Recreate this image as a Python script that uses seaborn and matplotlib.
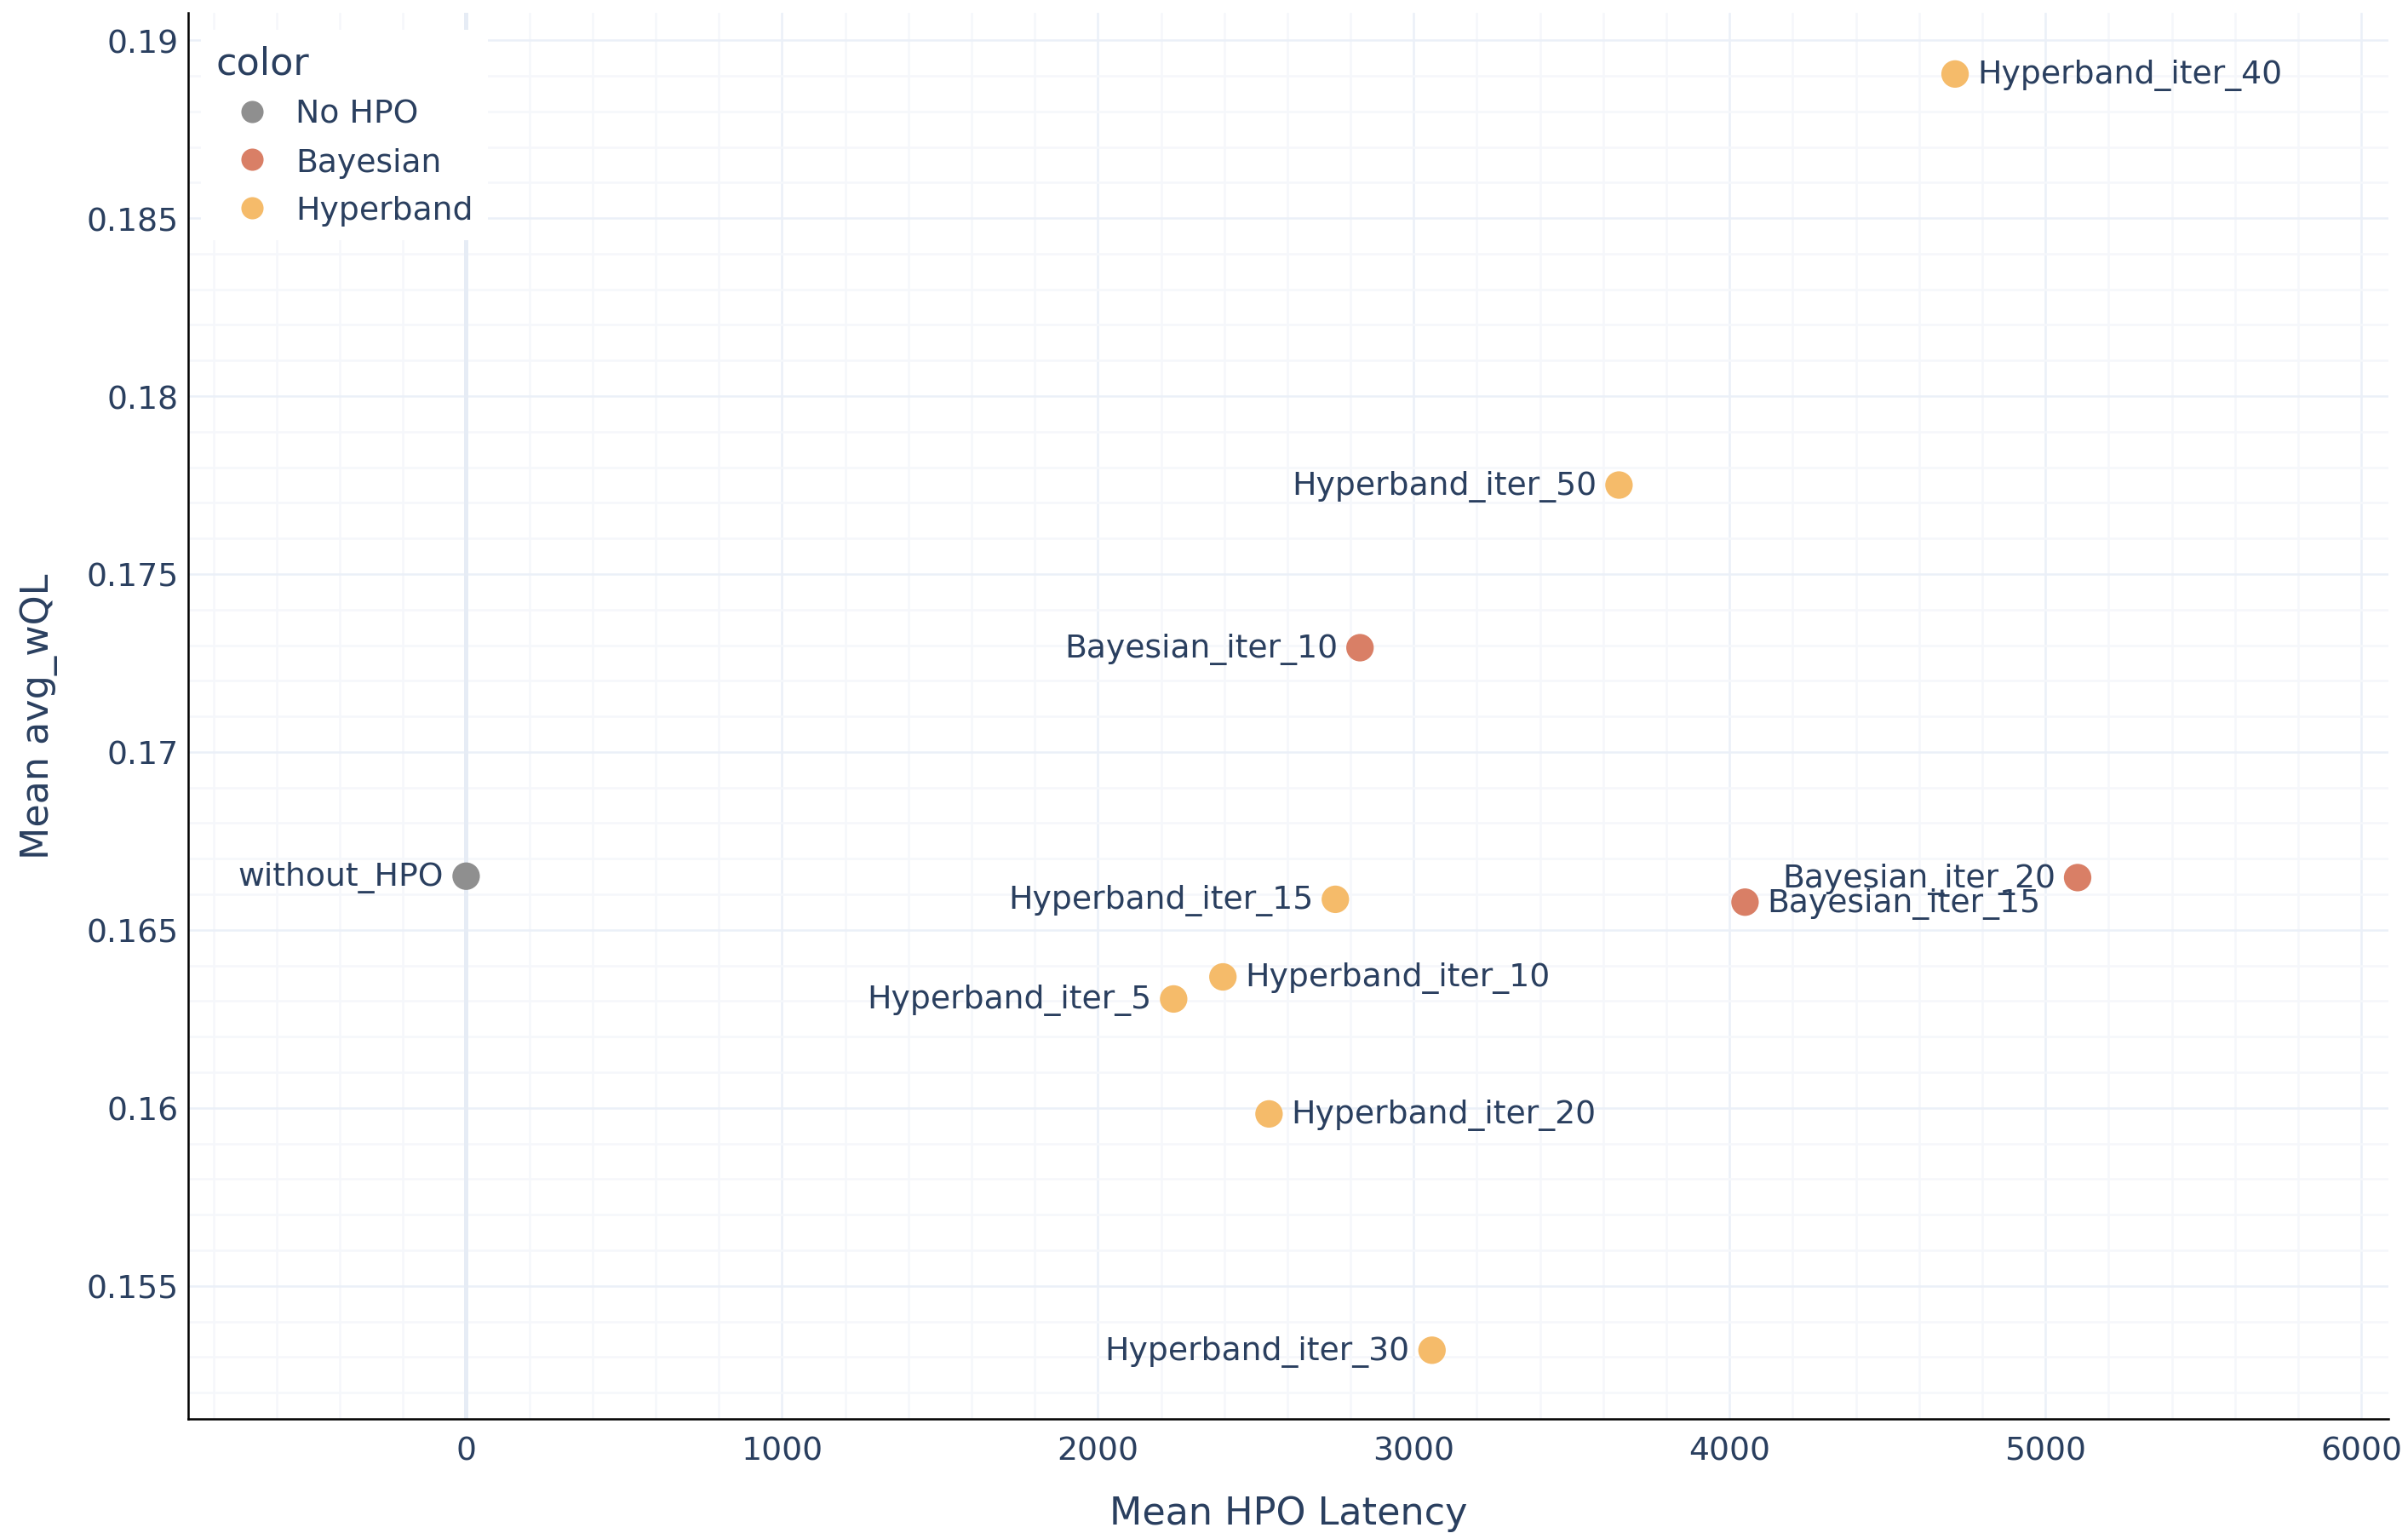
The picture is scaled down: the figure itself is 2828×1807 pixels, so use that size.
import numpy as np
import pandas as pd
import seaborn as sns
import matplotlib.pyplot as plt
from matplotlib.ticker import MultipleLocator, FuncFormatter
from matplotlib.lines import Line2D

# ---- data ----
labels = ["without_HPO", "Bayesian_iter_10", "Bayesian_iter_15", "Bayesian_iter_20",
          "Hyperband_iter_5", "Hyperband_iter_10", "Hyperband_iter_15", "Hyperband_iter_20",
          "Hyperband_iter_30", "Hyperband_iter_40", "Hyperband_iter_50"]
groups = ["No HPO", "Bayesian", "Bayesian", "Bayesian",
          "Hyperband", "Hyperband", "Hyperband", "Hyperband",
          "Hyperband", "Hyperband", "Hyperband"]
latency = [0, 2830, 4049, 5102, 2240, 2396, 2752, 2542, 3058, 4714, 3650]
wql = [0.16651, 0.17293, 0.16578, 0.16647, 0.16306, 0.16368, 0.16586, 0.15983,
       0.15319, 0.18905, 0.17750]
label_side = ["left", "left", "right", "left", "left", "right", "left", "right",
              "left", "right", "left"]
group_order = ["No HPO", "Bayesian", "Hyperband"]
group_colors = ["#8f8f8f", "#d97f66", "#f5bb6a"]

df = pd.DataFrame({"label": labels, "color": groups, "latency": latency, "wql": wql,
                   "side": label_side})

sns.set_theme(style="white")
plt.rcParams["font.family"] = ["DejaVu Sans"]
TXT = "#2a3f5f"
FS = 13.6
FS_T = 16.0

W, H = 2828, 1808
fig = plt.figure(figsize=(W / 200, H / 200), dpi=200)
L, R, T, B = 221, 2805, 16, 1667
ax = fig.add_axes([L / W, 1 - B / H, (R - L) / W, (B - T) / H])

palette = dict(zip(group_order, group_colors))
sns.scatterplot(data=df, x="latency", y="wql", hue="color", hue_order=group_order,
                palette=palette, s=135, linewidth=0, ax=ax, zorder=3, legend=False)

for _, r in df.iterrows():
    off = 9.4 if r["side"] == "right" else -9.4
    ax.annotate(r["label"], (r["latency"], r["wql"]), xytext=(off, 1.3),
                textcoords="offset points", ha="left" if off > 0 else "right",
                va="center_baseline", fontsize=FS, color=TXT, zorder=4)

ax.set_xlim(-880, 6086)
ax.set_ylim(0.15126, 0.19077)
ax.xaxis.set_major_locator(MultipleLocator(1000))
ax.xaxis.set_minor_locator(MultipleLocator(200))
ax.yaxis.set_major_locator(MultipleLocator(0.005))
ax.yaxis.set_minor_locator(MultipleLocator(0.001))
ax.yaxis.set_major_formatter(FuncFormatter(lambda v, p: f"{v:g}"))
ax.xaxis.set_major_formatter(FuncFormatter(lambda v, p: f"{v:g}"))

ax.set_axisbelow(True)
ax.grid(which="major", color="#EBF0F8", linewidth=0.9)
ax.grid(which="minor", color="#F5F7FB", linewidth=0.9)
ax.axvline(0, color="#E6ECF5", linewidth=1.8, zorder=0.6)

ax.tick_params(which="both", length=0, labelsize=FS, labelcolor=TXT)
ax.tick_params(axis="x", pad=7)
ax.tick_params(axis="y", pad=4)
for s in ["top", "right"]:
    ax.spines[s].set_visible(False)
for s in ["left", "bottom"]:
    ax.spines[s].set_color("black")
    ax.spines[s].set_linewidth(0.9)

ax.set_xlabel("Mean HPO Latency", fontsize=FS_T, color=TXT, labelpad=12)
ax.set_ylabel("Mean avg_wQL", fontsize=FS_T, color=TXT, labelpad=12)

handles = [Line2D([0], [0], marker="o", linestyle="", markersize=9.4,
                  markerfacecolor=c, markeredgewidth=0) for c in group_colors]
leg = ax.legend(handles, group_order, title="color", loc="upper left",
                bbox_to_anchor=((236 - L) / (R - L), 1 - (36 - T) / (B - T)),
                borderaxespad=0, frameon=True, facecolor="white", edgecolor="none",
                framealpha=1, fancybox=False, fontsize=FS, title_fontsize=FS_T,
                handlelength=2.3, handletextpad=0.2, borderpad=0.45,
                labelspacing=0.55, alignment="left")
for t in leg.get_texts():
    t.set_color(TXT)
leg.get_title().set_color(TXT)
leg.set_zorder(5)

fig.savefig("out.png", dpi=200)
